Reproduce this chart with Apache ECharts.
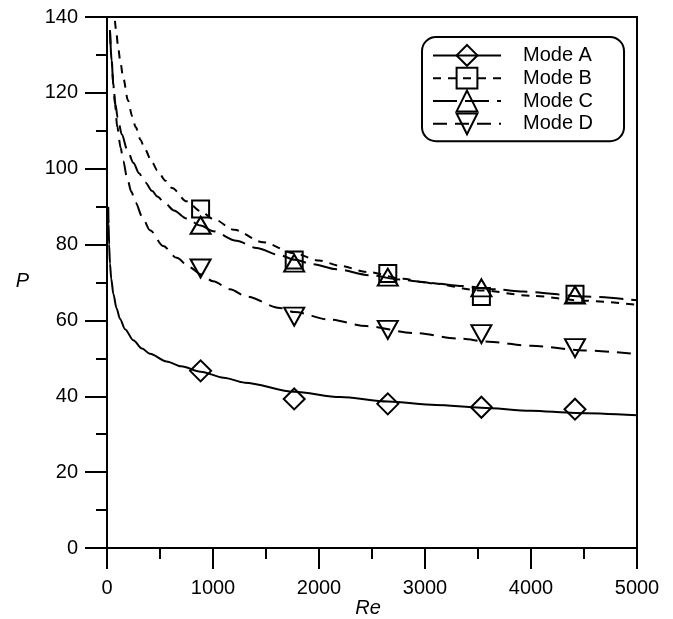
<!DOCTYPE html>
<html>
<head>
<meta charset="utf-8">
<script src="https://cdn.jsdelivr.net/npm/echarts@6/dist/echarts.min.js"></script>
<style>
html,body{margin:0;padding:0;background:#fff;}
#chart{width:673px;height:619px;}
</style>
</head>
<body>
<div id="chart"></div>
<script>
// ---- data ----
const seriesNames = ['Mode A', 'Mode B', 'Mode C', 'Mode D'];
const xTicks = [0, 1000, 2000, 3000, 4000, 5000];
const yTicks = [0, 20, 40, 60, 80, 100, 120, 140];

// measured points (markers)
const markerRe = [883, 1766, 2649, 3532, 4415];
const markA = [46.7, 39.3, 38.0, 37.1, 36.6];
const markB = [89.4, 75.9, 72.4, 66.3, 66.9];
const markC = [85.1, 75.1, 71.4, 68.6, 66.7];
const markD = [73.7, 61.0, 57.5, 56.4, 52.7];

// fitted curves
const curveA_re = [12, 15, 20, 28, 40, 60, 90, 123, 170, 248, 330, 405, 562, 700, 883, 1100, 1300, 1766, 2200, 2650, 3100, 3530, 4000, 4417, 5000];
const curveA_p  = [90, 85.5, 80, 75, 71, 67, 63.2, 60.4, 57.7, 54.8, 52.6, 51.2, 49.2, 47.9, 46.5, 44.9, 43.6, 41.2, 39.8, 38.6, 37.7, 37.0, 36.2, 35.6, 35.0];

const curveB_re = [75, 86, 105, 123, 153, 198, 238, 270, 317, 354, 427, 474, 552, 614, 751, 883, 1000, 1200, 1473, 1766, 2000, 2196, 2447, 2794, 3000, 3533, 4000, 4500, 5000];
const curveB_p  = [139, 136.5, 132, 128.8, 124, 118, 113.8, 111, 107.6, 105.3, 101.6, 99.6, 96.8, 94.9, 91.4, 88.8, 86.8, 83.9, 80.6, 77.7, 75.8, 74.4, 72.8, 71.0, 70.0, 67.9, 66.5, 65.2, 64.1];

const curveC_re = [28, 44, 60, 80, 100, 140, 191, 250, 302, 360, 427, 474, 550, 631, 750, 883, 1002, 1222, 1410, 1631, 1772, 1944, 2164, 2480, 2762, 2950, 3107, 3327, 3672, 3923, 4520, 5000];
const curveC_p  = [136.5, 128.5, 122, 117, 113.5, 109, 105.0, 101.5, 98.8, 96.4, 94.1, 92.7, 90.8, 89.0, 86.9, 85.0, 83.5, 81.0, 79.1, 77.2, 76.0, 74.8, 73.5, 71.9, 70.8, 70.2, 69.7, 69.1, 68.2, 67.6, 66.3, 65.3];

const curveD_re = [28, 44, 60, 75, 97, 129, 153, 191, 230, 270, 333, 405, 531, 657, 782, 883, 1002, 1160, 1316, 1631, 1766, 2102, 2447, 2888, 3327, 3600, 4000, 4500, 5000];
const curveD_p  = [136.5, 128.5, 122, 117, 111, 105.5, 102, 97.4, 93.9, 91.0, 87.3, 83.8, 79.6, 76.5, 74.0, 72.2, 70.3, 68.2, 66.3, 63.3, 62.2, 60.2, 58.5, 56.7, 55.2, 54.4, 53.3, 52.1, 51.1];

// ---- build chart ----
const zip = (xs, ys) => xs.map((x, i) => [x, ys[i]]);
const FONT = '"Liberation Sans", Arial, Helvetica, sans-serif';

const symbols = ['diamond', 'rect', 'triangle', 'triangle'];
const rotates = [0, 0, 0, 180];
const sizes = [[21, 21], [17, 17], [20, 17], [20, 18]];
const dashes = ['solid', [8, 7], [24, 8], [14, 8]];
const curves = [zip(curveA_re, curveA_p), zip(curveB_re, curveB_p), zip(curveC_re, curveC_p), zip(curveD_re, curveD_p)];
const marks = [markA, markB, markC, markD].map(m => zip(markerRe, m));

const series = [];
seriesNames.forEach((name, i) => {
  series.push({
    name: name,
    type: 'line',
    data: curves[i],
    smooth: 0.3,
    smoothMonotone: 'x',
    showSymbol: false,
    symbol: symbols[i],
    symbolRotate: rotates[i],
    symbolSize: sizes[i],
    itemStyle: { color: 'transparent', borderColor: '#000', borderWidth: 2, opacity: 1 },
    lineStyle: { color: '#000', width: 2, type: dashes[i], opacity: 1 },
    z: 2,
    silent: true,
    animation: false
  });
});
seriesNames.forEach((name, i) => {
  series.push({
    name: name,
    type: 'scatter',
    data: marks[i],
    symbol: symbols[i],
    symbolRotate: rotates[i],
    symbolSize: sizes[i],
    itemStyle: { color: 'transparent', borderColor: '#000', borderWidth: 2, opacity: 1 },
    z: 3,
    silent: true,
    animation: false
  });
});

const chart = echarts.init(document.getElementById('chart'), null, { renderer: 'canvas' });
chart.setOption({
  animation: false,
  backgroundColor: '#fff',
  grid: {
    left: 107, right: 36, top: 17, bottom: 71,
    show: true, borderColor: '#000', borderWidth: 2, backgroundColor: 'transparent'
  },
  legend: {
    data: seriesNames,
    orient: 'vertical',
    left: 422, top: 37,
    itemWidth: 68, itemHeight: 26, itemGap: 0,
    padding: [7, 31, 6, 10],
    borderColor: '#000', borderWidth: 2, borderRadius: 14,
    backgroundColor: '#fff',
    selectedMode: false,
    itemStyle: { color: 'transparent', borderColor: '#000', borderWidth: 2, opacity: 1 },
    textStyle: { fontSize: 20, fontFamily: FONT, color: '#000', padding: [0, 0, 0, 17] }
  },
  xAxis: {
    type: 'value', min: xTicks[0], max: xTicks[xTicks.length - 1], interval: 1000,
    axisLine: { onZero: false, lineStyle: { color: '#000', width: 2 } },
    axisTick: { length: 21, lineStyle: { color: '#000', width: 2 } },
    minorTick: { show: true, splitNumber: 2, length: 11, lineStyle: { color: '#000', width: 2 } },
    splitLine: { show: false },
    axisLabel: { margin: 30, fontSize: 20, fontFamily: FONT, color: '#000', formatter: v => String(v) }
  },
  yAxis: {
    type: 'value', min: yTicks[0], max: yTicks[yTicks.length - 1], interval: 20,
    axisLine: { onZero: false, lineStyle: { color: '#000', width: 2 } },
    axisTick: { length: 22, lineStyle: { color: '#000', width: 2 } },
    minorTick: { show: true, splitNumber: 2, length: 11, lineStyle: { color: '#000', width: 2 } },
    splitLine: { show: false },
    axisLabel: { margin: 29, fontSize: 20, fontFamily: FONT, color: '#000', formatter: v => String(v) }
  },
  graphic: [
    { type: 'text', x: 22.5, y: 281, style: { text: 'P', font: 'italic 20px ' + FONT, fill: '#000', align: 'center', verticalAlign: 'middle' } },
    { type: 'text', x: 368, y: 608, style: { text: 'Re', font: 'italic 20px ' + FONT, fill: '#000', align: 'center', verticalAlign: 'middle' } }
  ],
  series: series
});
</script>
</body>
</html>
